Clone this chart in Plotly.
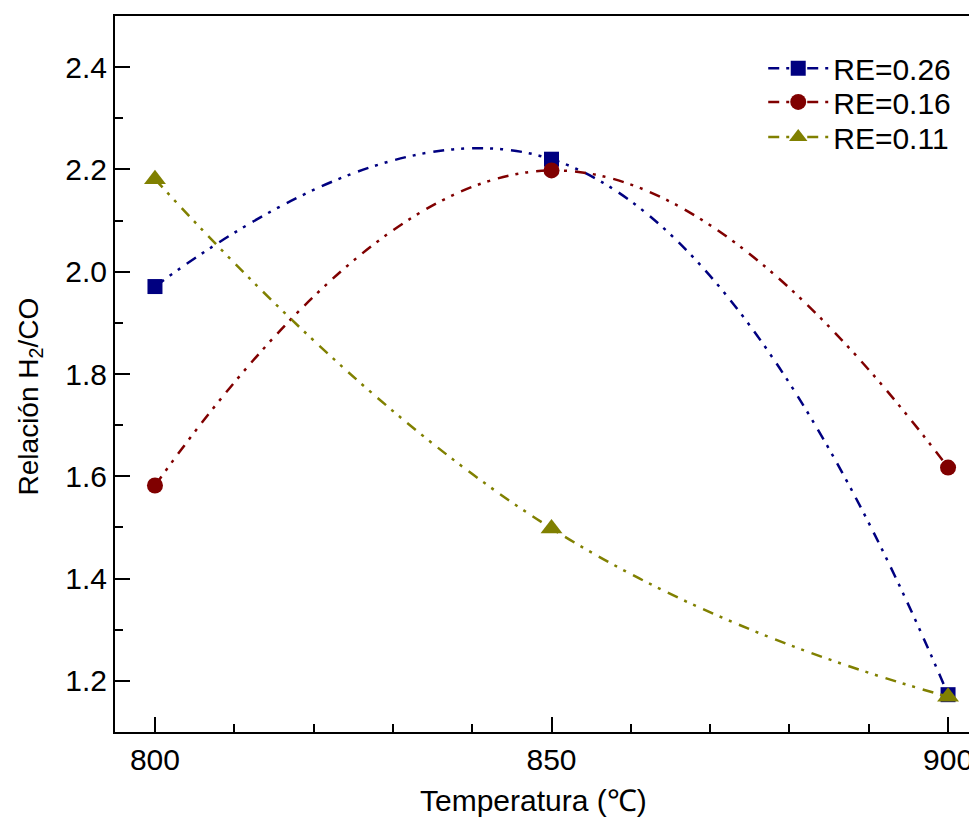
import plotly.graph_objects as go

temps = [800, 850, 900]
re026 = [1.971, 2.220, 1.173]
re016 = [1.582, 2.198, 1.617]
re011 = [2.181, 1.498, 1.169]
names = ["RE=0.26", "RE=0.16", "RE=0.11"]
colors = ["#000080", "#800000", "#808000"]
symbols = ["square", "circle", "triangle-up"]
sizes = [15, 16, 19]
legend_ids = ["legend", "legend2", "legend3"]
legend_y = [0.927, 0.880, 0.831]
dash = "11px,7px,3px,7px,3px,8px"

fam = "Liberation Sans, Arial, sans-serif"

fig = go.Figure()
for ys, n, c, s, sz, lg in zip([re026, re016, re011], names, colors, symbols, sizes, legend_ids):
    fig.add_trace(go.Scatter(
        x=temps, y=ys, name=n, mode="lines+markers", legend=lg,
        line=dict(color=c, width=2.5, dash=dash, shape="spline", smoothing=1.3),
        marker=dict(symbol=s, size=sz, color=c, line=dict(width=0)),
    ))

legend_common = dict(x=0.752, xanchor="left", yanchor="middle",
                     bgcolor="rgba(0,0,0,0)", font=dict(family=fam, size=30),
                     itemwidth=60)
fig.update_layout(
    width=969, height=820,
    margin=dict(l=107, r=0, t=8, b=96),
    paper_bgcolor="white", plot_bgcolor="white",
    font=dict(family=fam, size=30, color="black"),
    showlegend=True,
    legend=dict(y=legend_y[0], **legend_common),
    legend2=dict(y=legend_y[1], **legend_common),
    legend3=dict(y=legend_y[2], **legend_common),
)
fig.add_annotation(
    text="Relación H<sub>2</sub>/CO", textangle=-90,
    xref="paper", yref="paper", x=-0.098, y=0.468,
    xanchor="center", yanchor="middle", showarrow=False,
    font=dict(family=fam, size=28, color="black"),
)
fig.add_annotation(
    text="Temperatura (℃)",
    xref="paper", yref="paper", x=0.486, y=-0.095,
    xanchor="center", yanchor="middle", showarrow=False,
    font=dict(family=fam, size=30, color="black"),
)
fig.update_xaxes(
    range=[794.96, 903.65], tickvals=temps, ticktext=[str(t) for t in temps],
    ticks="inside", ticklen=15, tickwidth=2, tickcolor="black",
    minor=dict(dtick=10, ticks="inside", ticklen=8, tickwidth=2, tickcolor="black", showgrid=False),
    showline=True, linecolor="black", linewidth=2, mirror=True,
    showgrid=False, zeroline=False,
    tickfont=dict(family=fam, size=30),
)
fig.update_yaxes(
    range=[1.1, 2.5], tickvals=[1.2, 1.4, 1.6, 1.8, 2.0, 2.2, 2.4],
    ticktext=["1.2", "1.4", "1.6", "1.8", "2.0", "2.2", "2.4"],
    ticks="inside", ticklen=15, tickwidth=2, tickcolor="black",
    minor=dict(dtick=0.1, tick0=1.1, ticks="inside", ticklen=8, tickwidth=2, tickcolor="black", showgrid=False),
    showline=True, linecolor="black", linewidth=2, mirror=False,
    showgrid=False, zeroline=False,
    tickfont=dict(family=fam, size=30),
)
fig.write_html("out.html")
